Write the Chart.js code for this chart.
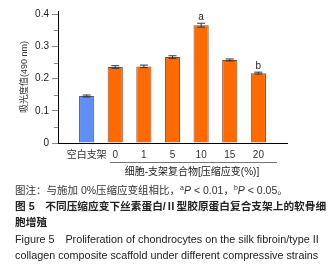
<!DOCTYPE html>
<html>
<head>
<meta charset="utf-8">
<script src="https://cdn.jsdelivr.net/npm/chart.js@4/dist/chart.umd.min.js"></script>
<style>
  body { margin: 0; background: #fff; }
  #wrap { position: relative; width: 333px; height: 268px; overflow: hidden; font-family: "Liberation Sans", Arial, "Noto Sans CJK SC", sans-serif; color: #222; }
  #box { position: absolute; left: 0; top: 0; width: 333px; height: 165px; }
  .t { position: absolute; white-space: nowrap; line-height: 12px; }
  #grp { left: 112px; width: 160px; top: 166px; font-size: 10px; text-align: center; }
  #grpline { position: absolute; left: 110px; top: 162px; width: 167px; height: 0; border-top: 1px solid #777; }
  #note { left: 15px; top: 184px; font-size: 10.5px; color: #333; }
  #cap1 { left: 15px; top: 200px; font-size: 10.7px; font-weight: bold; }
  #cap2 { left: 15px; top: 216px; font-size: 10.7px; font-weight: bold; }
  #cap3 { left: 15px; top: 233px; font-size: 10.8px; }
  #cap4 { left: 15px; top: 249px; font-size: 10.8px; }
  sup { font-size: 7px; vertical-align: 4px; line-height: 0; }
</style>
</head>
<body>
<div id="wrap">
  <div id="box"><canvas id="chart"></canvas></div>
  <div id="grpline"></div>
  <div class="t" id="grp">细胞-支架复合物[压缩应变(%)]</div>
  <div class="t" id="note">图注：与施加 0%压缩应变组相比，<sup>a</sup><i>P</i> &lt; 0.01，<sup>b</sup><i>P</i> &lt; 0.05。</div>
  <div class="t" id="cap1">图 5　不同压缩应变下丝素蛋白/Ⅱ型胶原蛋白复合支架上的软骨细</div>
  <div class="t" id="cap2">胞增殖</div>
  <div class="t" id="cap3">Figure 5　Proliferation of chondrocytes on the silk fibroin/type II</div>
  <div class="t" id="cap4">collagen composite scaffold under different compressive strains</div>
</div>
<script>
// 数据
const categories = ['', '空白支架', '0', '1', '5', '10', '15', '20', ''];
const absorbance = [null, 0.146, 0.236, 0.238, 0.267, 0.366, 0.258, 0.217, null];
const errors = [null, 0.003, 0.004, 0.004, 0.004, 0.006, 0.003, 0.003, null];
const marks = ['', '', '', '', '', 'a', '', 'b', ''];
const yTicks = [0, 0.05, 0.1, 0.15, 0.2, 0.25, 0.3, 0.35, 0.4];
const yTitle = '吸光度值(490 nm)';

const fills = categories.map((c, i) => i === 1 ? '#5f8ff6' : '#ff6a00');
const borders = categories.map((c, i) => i === 1 ? '#4a5d8a' : '#8a4a2a');

// 误差线、显著性标记、次刻度、纵轴标题
const errorBars = {
    id: 'errorBars',
    afterDatasetsDraw(chart) {
        const ctx = chart.ctx;
        const y = chart.scales.y;
        const meta = chart.getDatasetMeta(0);
        ctx.save();
        meta.data.forEach((bar, i) => {
            const v = absorbance[i];
            if (v === null) return;
            const e = errors[i];
            const top = y.getPixelForValue(v + e);
            const bot = y.getPixelForValue(v - e);
            ctx.strokeStyle = '#333';
            ctx.lineWidth = 1;
            ctx.beginPath();
            ctx.moveTo(bar.x, top); ctx.lineTo(bar.x, bot);
            ctx.moveTo(bar.x - 4, top); ctx.lineTo(bar.x + 4, top);
            ctx.moveTo(bar.x - 4, bot); ctx.lineTo(bar.x + 4, bot);
            ctx.stroke();
            if (marks[i]) {
                ctx.fillStyle = '#222';
                ctx.font = '10px "Liberation Sans", Arial';
                ctx.textAlign = 'center';
                ctx.textBaseline = 'bottom';
                ctx.fillText(marks[i], bar.x, top - 0.5);
            }
        });
        const x0 = y.right;
        ctx.strokeStyle = '#888';
        yTicks.forEach((t, i) => {
            if (i % 2 === 0) return;
            const py = Math.round(y.getPixelForValue(t)) + 0.5;
            ctx.beginPath();
            ctx.moveTo(x0 - 4, py); ctx.lineTo(x0, py);
            ctx.stroke();
        });
        // 纵轴标题
        ctx.translate(x0 - 33, (chart.chartArea.top + chart.chartArea.bottom) / 2);
        ctx.rotate(-Math.PI / 2);
        ctx.fillStyle = '#333';
        ctx.font = '9px "Liberation Sans", "Noto Sans CJK SC"';
        ctx.textAlign = 'center';
        ctx.textBaseline = 'middle';
        ctx.fillText(yTitle, 0, 0);
        ctx.restore();
    }
};

new Chart(document.getElementById('chart'), {
    type: 'bar',
    data: {
        labels: categories,
        datasets: [{
            data: absorbance,
            backgroundColor: fills,
            borderColor: borders,
            borderWidth: 1,
            barPercentage: 0.53,
            categoryPercentage: 1
        }]
    },
    options: {
        responsive: true,
        maintainAspectRatio: false,
        animation: false,
        layout: { padding: { left: 0, right: 46, top: 11, bottom: 0 } },
        plugins: { legend: { display: false }, tooltip: { enabled: false } },
        scales: {
            x: {
                offset: false,
                grid: { display: true, drawOnChartArea: false, drawTicks: false },
                border: { display: true, color: '#000', width: 1 },
                ticks: {
                    padding: 6,
                    color: '#333',
                    maxRotation: 0,
                    autoSkip: false,
                    font: { size: 10, family: '"Liberation Sans", Arial, "Noto Sans CJK SC"' }
                },
                afterFit(scale) { scale.height = 22; }
            },
            y: {
                min: 0,
                max: 0.41,
                afterBuildTicks(scale) { scale.ticks = yTicks.filter((t, i) => i % 2 === 0).map(v => ({ value: v })); },
                grid: { drawOnChartArea: false, tickLength: 6, tickColor: '#888' },
                border: { display: true, color: '#000', width: 1 },
                ticks: {
                    padding: 3,
                    color: '#222',
                    font: { size: 10, family: '"Liberation Sans", Arial' },
                    callback: v => v === 0 ? '0' : v.toFixed(1)
                },
                afterFit(scale) { scale.width = 58; }
            }
        }
    },
    plugins: [errorBars]
});
</script>
</body>
</html>
